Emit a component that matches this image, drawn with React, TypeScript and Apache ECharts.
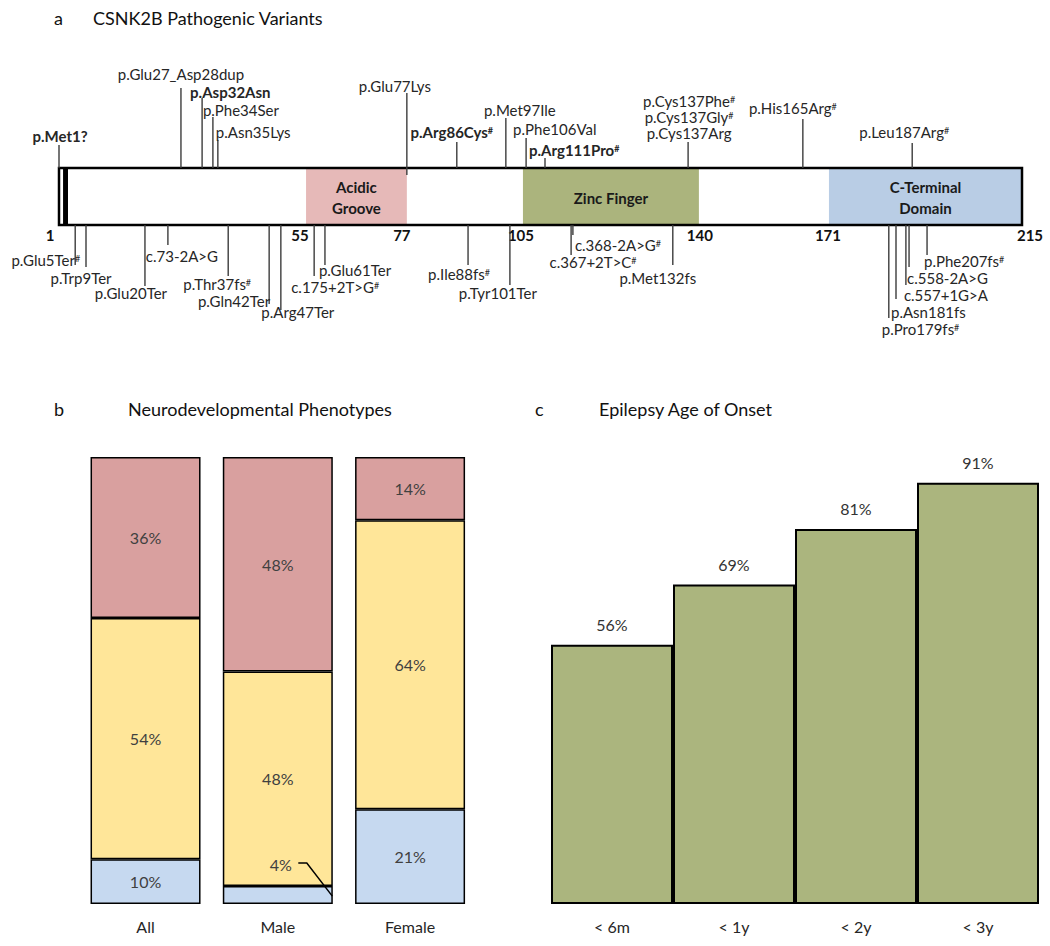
import React, { useEffect, useRef } from 'react';
import * as echarts from 'echarts';

const FONT = 'Lato, Carlito, "Liberation Sans", sans-serif';
const TEXT = '#262626';
const LINE = '#3c3c3c';

// ---------------- Panel a : CSNK2B pathogenic variants ----------------
const proteinRange = [1, 215];
const domainNames = ['Acidic\nGroove', 'Zinc Finger', 'C-Terminal\nDomain'];
// domain extents along the protein bar (residue units, as drawn in the schematic)
const domainStart = [55.9, 104.1, 172.1];
const domainEnd = [78.3, 143.2, 215];
const boundaryLabels = ['1', '55', '77', '105', '140', '171', '215'];
const boundaryPos = [1, 55.9, 78.3, 104.1, 143.2, 172.1, 215];
const startMark = [1.9, 3.0];

const upVariants = [
  'p.Met1?', 'p.Glu27_Asp28dup', 'p.Asp32Asn', 'p.Phe34Ser', 'p.Asn35Lys', 'p.Glu77Lys',
  'p.Arg86Cys#', 'p.Met97Ile', 'p.Phe106Val', 'p.Arg111Pro#',
  'p.Cys137Phe#\np.Cys137Gly#\np.Cys137Arg', 'p.His165Arg#', 'p.Leu187Arg#',
];
const upPos = [1, 28.1, 32.8, 35.2, 36.3, 78.3, 89.4, 100.3, 104.8, 109, 140.8, 166.3, 190.6];
const upBold = [true, false, true, false, false, false, true, false, false, true, false, false, false];

const downVariants = [
  'p.Glu5Ter#', 'p.Trp9Ter', 'p.Glu20Ter', 'c.73-2A>G', 'p.Thr37fs#', 'p.Gln42Ter', 'p.Arg47Ter',
  'c.175+2T>G#', 'p.Glu61Ter', 'p.Ile88fs#', 'p.Tyr101Ter', 'c.368-2A>G#', 'c.367+2T>C#',
  'p.Met132fs', 'p.Phe207fs#', 'c.558-2A>G', 'c.557+1G>A', 'p.Asn181fs', 'p.Pro179fs#',
];
const downPos = [4.6, 7, 20.1, 25.2, 38.6, 47.7, 50.3, 57.7, 60.1, 91.9, 101.2, 115.2, 114.8, 137.4, 193.9, 189.9, 189.2, 187, 185.4];

// ---------------- Panel b : neurodevelopmental phenotypes ----------------
const phenoGroups = ['All', 'Male', 'Female'];
const redShare = [36, 48, 14];
const yellowShare = [54, 48, 64];
const blueShare = [10, 4, 21];

// ---------------- Panel c : epilepsy age of onset ----------------
const onsetGroups = ['< 6m', '< 1y', '< 2y', '< 3y'];
const onsetShare = [56, 69, 81, 91];

// ---------------- layout (pixels) ----------------
// [line length, label dx, label dy (from bar edge), align, extra line into bar]
const upLayout: any[] = [
  [23, 1, -32, 'center', 0],
  [80, 0, -94, 'center', 0],
  [70, -12, -76, 'left', 0],
  [51, -10, -58, 'left', 0],
  [28, -2, -36, 'left', 0],
  [75, -12, -82, 'center', 7],
  [26, -5, -36, 'center', 0],
  [50, 14, -58, 'center', 0],
  [30, -13, -39, 'left', 0],
  [10, -16, -18, 'left', 0],
  [26, 1, -51, 'center', 0],
  [49, -10, -60, 'center', 0],
  [25, -8, -36, 'center', 0],
];
const downLayout: any[] = [
  [40, 5, 35, 'right'],
  [42, -5, 53, 'center'],
  [61, -14, 68, 'center'],
  [20, 14, 31, 'center'],
  [51, -11, 59, 'center'],
  [79, 1, 76, 'right'],
  [85, 17, 87, 'center'],
  [51, 21, 62, 'center'],
  [40, -6, 45, 'left'],
  [40, -9, 49, 'center'],
  [60, -12, 68, 'center'],
  [10, 2, 20, 'left'],
  [30, 22, 37, 'center'],
  [40, -15, 53, 'center'],
  [30, -3, 36, 'left'],
  [42, -2, 53, 'left'],
  [60, -2, 70, 'left'],
  [74, -5, 87, 'left'],
  [93, -7, 104, 'left'],
];
const tickDx = [-9, -6, -5, -2, 1, -1, 8];
const domainColors = ['#e6b9b8', '#abb47d', '#b9cde5'];
const phenoColors = ['#c6d9f0', '#ffe699', '#d9a09f'];

const LABEL_SIZE = 15;

function richify(s: string, bold: boolean) {
  return s.replace(/#/g, bold ? '{sb|#}' : '{s|#}');
}

const richSup = {
  s: { fontSize: 9, verticalAlign: 'top', fill: TEXT, fontFamily: FONT },
  sb: { fontSize: 9, verticalAlign: 'top', fill: TEXT, fontFamily: FONT, fontWeight: 'bold' },
};

function labelText(x: number, y: number, text: string, bold: boolean, align: string) {
  return {
    type: 'text',
    x,
    y,
    style: {
      text: richify(text, bold),
      rich: richSup,
      fill: TEXT,
      fontFamily: FONT,
      fontSize: LABEL_SIZE,
      fontWeight: bold ? 'bold' : 'normal',
      lineHeight: 13,
      align,
      verticalAlign: 'middle',
    },
  };
}

function variantItem(api: any, up: boolean, label: string, bold: boolean, lay: any[]) {
  const v = api.value(0);
  const top = api.coord([v, 1]);
  const bot = api.coord([v, 0]);
  const x = top[0];
  const [len, dx, dy, align, extra] = lay;
  const y0 = up ? top[1] + (extra || 0) : bot[1];
  const y1 = up ? top[1] - len : bot[1] + len;
  const base = up ? top[1] : bot[1];
  const lines = label.split('\n');
  const step = 16;
  const firstY = base + dy - ((lines.length - 1) * step) / 2;
  return {
    type: 'group',
    children: [
      { type: 'line', shape: { x1: x, y1: y0, x2: x, y2: y1 }, style: { stroke: LINE, lineWidth: 1.4 } },
      ...lines.map((t, k) => labelText(x + dx, firstY + k * step, t, bold, align)),
    ],
  };
}

export default function App() {
  const ref = useRef<HTMLDivElement>(null);
  useEffect(() => {
    document.body.style.margin = '0';
    if (!ref.current) return;
    const chart = echarts.init(ref.current, undefined, { renderer: 'svg' });

    const totals = phenoGroups.map((_, i) => redShare[i] + yellowShare[i] + blueShare[i]);
    const shares = [blueShare, yellowShare, redShare];
    const shareNames = ['Blue', 'Yellow', 'Red'];

    const phenoSeries = shares.map((arr, s) => ({
      type: 'bar',
      name: shareNames[s],
      xAxisIndex: 1,
      yAxisIndex: 1,
      stack: 'pheno',
      barWidth: 110,
      data: arr.map((v, i) => {
        const item: any = { value: (v / totals[i]) * 100 };
        if (s === 0 && phenoGroups[i] === 'Male') {
          item.label = { position: [58, -22], align: 'center', verticalAlign: 'middle' };
        }
        return item;
      }),
      itemStyle: { color: phenoColors[s], borderColor: '#000', borderWidth: 1.5 },
      label: {
        show: true,
        position: 'inside',
        formatter: (p: any) => arr[p.dataIndex] + '%',
        color: '#404040',
        fontSize: 16,
        fontFamily: FONT,
      },
    }));

    const maleIdx = phenoGroups.indexOf('Male');
    const titleStyle = { fontSize: 18, fontFamily: FONT, fill: '#111', verticalAlign: 'middle' };

    const option: any = {
      animation: false,
      backgroundColor: '#fff',
      grid: [
        { left: 59, right: 28, top: 168, height: 57 },
        { left: 79.4, width: 396.8, top: 457, bottom: 42 },
        { left: 551, width: 488, top: 441, bottom: 42 },
      ],
      xAxis: [
        { gridIndex: 0, type: 'value', min: proteinRange[0], max: proteinRange[1], show: false },
        {
          gridIndex: 1, type: 'category', data: phenoGroups,
          axisLine: { show: false }, axisTick: { show: false },
          axisLabel: { fontSize: 16, fontFamily: FONT, color: TEXT, margin: 14 },
        },
        {
          gridIndex: 2, type: 'category', data: onsetGroups,
          axisLine: { show: false }, axisTick: { show: false },
          axisLabel: { fontSize: 16, fontFamily: FONT, color: TEXT, margin: 14 },
        },
      ],
      yAxis: [
        { gridIndex: 0, type: 'value', min: 0, max: 1, show: false },
        { gridIndex: 1, type: 'value', min: 0, max: 100, show: false },
        { gridIndex: 2, type: 'value', min: 0, max: 100, show: false },
      ],
      graphic: [
        { type: 'text', x: 54, y: 18, style: { text: 'a', ...titleStyle } },
        { type: 'text', x: 93, y: 18, style: { text: 'CSNK2B Pathogenic Variants', ...titleStyle } },
        { type: 'text', x: 54, y: 409, style: { text: 'b', ...titleStyle } },
        { type: 'text', x: 128, y: 409, style: { text: 'Neurodevelopmental Phenotypes', ...titleStyle } },
        { type: 'text', x: 535, y: 409, style: { text: 'c', ...titleStyle } },
        { type: 'text', x: 599, y: 409, style: { text: 'Epilepsy Age of Onset', ...titleStyle } },
      ],
      series: [
        {
          type: 'custom', name: 'domains', xAxisIndex: 0, yAxisIndex: 0, clip: false, silent: true,
          data: domainStart.map((s, i) => [s, domainEnd[i]]),
          renderItem: (params: any, api: any) => {
            const a = api.coord([api.value(0), 1]);
            const b = api.coord([api.value(1), 0]);
            return {
              type: 'group',
              children: [
                { type: 'rect', shape: { x: a[0], y: a[1], width: b[0] - a[0], height: b[1] - a[1] }, style: { fill: domainColors[params.dataIndex] } },
                {
                  type: 'text', x: (a[0] + b[0]) / 2, y: (a[1] + b[1]) / 2 + 1,
                  style: { text: domainNames[params.dataIndex], fontSize: 15, fontWeight: 'bold', fontFamily: FONT, fill: '#1a1a1a', align: 'center', verticalAlign: 'middle', lineHeight: 21 },
                },
              ],
            };
          },
        },
        {
          type: 'custom', name: 'protein', xAxisIndex: 0, yAxisIndex: 0, clip: false, silent: true,
          data: [[proteinRange[0], proteinRange[1], startMark[0], startMark[1]]],
          renderItem: (params: any, api: any) => {
            const a = api.coord([api.value(0), 1]);
            const b = api.coord([api.value(1), 0]);
            const m0 = api.coord([api.value(2), 1]);
            const m1 = api.coord([api.value(3), 0]);
            return {
              type: 'group',
              children: [
                { type: 'rect', shape: { x: m0[0], y: m0[1], width: m1[0] - m0[0], height: m1[1] - m0[1] }, style: { fill: '#000' } },
                { type: 'rect', shape: { x: a[0], y: a[1], width: b[0] - a[0], height: b[1] - a[1] }, style: { fill: 'none', stroke: '#000', lineWidth: 2.5 } },
              ],
            };
          },
        },
        {
          type: 'custom', name: 'boundaries', xAxisIndex: 0, yAxisIndex: 0, clip: false, silent: true,
          data: boundaryPos.map((v) => [v]),
          renderItem: (params: any, api: any) => {
            const p = api.coord([api.value(0), 0]);
            return {
              type: 'text', x: p[0] + tickDx[params.dataIndex], y: p[1] + 10,
              style: { text: boundaryLabels[params.dataIndex], fontSize: 15, fontWeight: 'bold', fontFamily: FONT, fill: '#111', align: 'center', verticalAlign: 'middle' },
            };
          },
        },
        {
          type: 'custom', name: 'variants above', xAxisIndex: 0, yAxisIndex: 0, clip: false, silent: true,
          data: upPos.map((v) => [v]),
          renderItem: (params: any, api: any) =>
            variantItem(api, true, upVariants[params.dataIndex], upBold[params.dataIndex], upLayout[params.dataIndex]),
        },
        {
          type: 'custom', name: 'variants below', xAxisIndex: 0, yAxisIndex: 0, clip: false, silent: true,
          data: downPos.map((v) => [v]),
          renderItem: (params: any, api: any) =>
            variantItem(api, false, downVariants[params.dataIndex], false, downLayout[params.dataIndex]),
        },
        ...phenoSeries,
        {
          type: 'custom', name: 'leader', xAxisIndex: 1, yAxisIndex: 1, clip: false, silent: true, z: 10,
          data: [[phenoGroups[maleIdx], (blueShare[maleIdx] / totals[maleIdx]) * 100]],
          renderItem: (params: any, api: any) => {
            const p = api.coord([api.value(0), api.value(1)]);
            return {
              type: 'polyline',
              shape: { points: [[p[0] + 20.5, p[1] - 23], [p[0] + 29, p[1] - 23], [p[0] + 54.5, p[1] + 10]] },
              style: { stroke: '#000', lineWidth: 1.5, fill: null },
            };
          },
        },
        {
          type: 'bar', name: 'Epilepsy onset', xAxisIndex: 2, yAxisIndex: 2,
          data: onsetShare, barCategoryGap: 0,
          itemStyle: { color: '#abb57e', borderColor: '#000', borderWidth: 2 },
          label: { show: true, position: 'top', distance: 12, formatter: '{c}%', fontSize: 16, fontFamily: FONT, color: '#333' },
        },
      ],
    };

    chart.setOption(option);
    return () => chart.dispose();
  }, []);

  return <div ref={ref} style={{ width: 1050, height: 946 }} />;
}
